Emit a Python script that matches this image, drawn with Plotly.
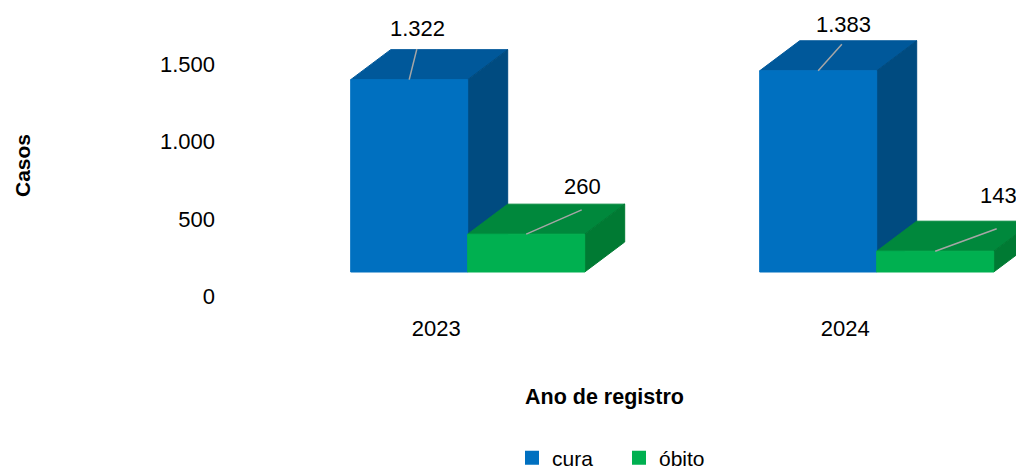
import plotly.graph_objects as go

# ---- data ----
years = ["2023", "2024"]
series_names = ["cura", "óbito"]
cura = [1322, 1383]
obito = [260, 143]
y_ticks = [0, 500, 1000, 1500]

# ---- style / geometry constants ----
# page pixel positions measured on the reference; the html body adds an 8px
# margin, so the figure is made 8px smaller and every position shifted by OFF.
OFF = 8
W, H = 1024 - OFF, 472 - OFF
ML, MR, MT, MB = 216 - OFF, 0, 0, 167
PLOT_W = W - ML - MR
PLOT_H = H - MT - MB
PX_X = 409.0                 # px per category
X0_PX = 467.7 - OFF          # pixel of first category boundary
BAR_W = 117 / PX_X           # bar width in category units
SY = 0.1455                  # px per case (bars)
BASE_PX = 272 - OFF          # pixel of bar base
DEPTH_X = 40 / PX_X
DEPTH_Y = 30 / SY
S2 = (296.7 - 64) / 1500     # px per case for tick-label axis
ZERO2_PX = 296.7 - OFF

FONT = "Liberation Sans, Arial, sans-serif"

colors = {
    "cura": {"front": "#0070C0", "top": "#00589A", "side": "#004B80"},
    "óbito": {"front": "#00B050", "top": "#00883C", "side": "#007A33"},
}

x_range = [(ML - X0_PX) / PX_X, (W - MR - X0_PX) / PX_X]
y_range = [-(MT + PLOT_H - BASE_PX) / SY, (BASE_PX - MT) / SY]
y2_range = [-(MT + PLOT_H - ZERO2_PX) / S2, (ZERO2_PX - MT) / S2]


def px_to_paper_x(p):
    return (p - OFF - ML) / PLOT_W


def px_to_paper_y(p):
    return (MT + PLOT_H - (p - OFF)) / PLOT_H


fig = go.Figure()


def poly(xs, ys, color):
    fig.add_trace(go.Scatter(
        x=xs + [xs[0]], y=ys + [ys[0]], mode="lines", fill="toself",
        fillcolor=color, line=dict(color=color, width=1),
        showlegend=False, hoverinfo="skip"))


label_points = []
for i, yr in enumerate(years):
    for name, vals, x0 in (("cura", cura, i - BAR_W), ("óbito", obito, i)):
        v = vals[i]
        x1 = x0 + BAR_W
        c = colors[name]
        # top face
        poly([x0, x1, x1 + DEPTH_X, x0 + DEPTH_X], [v, v, v + DEPTH_Y, v + DEPTH_Y], c["top"])
        # side face
        poly([x1, x1 + DEPTH_X, x1 + DEPTH_X, x1], [0, DEPTH_Y, v + DEPTH_Y, v], c["side"])
        # front face
        poly([x0, x1, x1, x0], [0, 0, v, v], c["front"])
        label_points.append(((x0 + x1) / 2, v))

# legend proxies
for name in series_names:
    fig.add_trace(go.Scatter(
        x=[None], y=[None], mode="markers", name=name, yaxis="y2",
        marker=dict(symbol="square", size=14, color=colors[name]["front"])))

# data labels with leader lines (pixel offsets: text shift, line end)
text_shift = [(8, 51), (56, 48), (25, 46), (63, 56)]
line_end = [(8, -32), (57, -25), (25, -28), (63, -23)]
for (xp, v), (tx, ty), (lx, ly) in zip(label_points, text_shift, line_end):
    fig.add_annotation(x=xp, y=v, xref="x", yref="y", text="", showarrow=True,
                       arrowhead=0, arrowwidth=1.5, arrowcolor="#A6A6A6",
                       ax=lx, ay=ly)
    fig.add_annotation(x=xp, y=v, xref="x", yref="y",
                       text=f"{v:,}".replace(",", "."), showarrow=False,
                       xshift=tx, yshift=ty,
                       font=dict(family=FONT, size=22, color="#000000"))

# axis titles
fig.add_annotation(text="<b>Casos</b>", xref="paper", yref="paper",
                   x=px_to_paper_x(22), y=px_to_paper_y(166),
                   xanchor="center", yanchor="middle",
                   textangle=-90, showarrow=False,
                   font=dict(family=FONT, size=21, color="#000000"))
fig.add_annotation(text="<b>Ano de registro</b>", xref="paper", yref="paper",
                   x=px_to_paper_x(604.5), y=px_to_paper_y(397),
                   xanchor="center", yanchor="middle",
                   showarrow=False,
                   font=dict(family=FONT, size=21.5, color="#000000"))

fig.update_layout(
    width=W, height=H,
    margin=dict(l=ML, r=MR, t=MT, b=MB, autoexpand=False),
    paper_bgcolor="white", plot_bgcolor="white",
    separators=",.",
    font=dict(family=FONT, size=22, color="#000000"),
    xaxis=dict(range=x_range, showgrid=False, zeroline=False, showline=False,
               automargin=False,
               tickmode="array", tickvals=[i - 0.077 for i in range(len(years))],
               ticktext=years, ticks="", ticklabelstandoff=8,
               tickfont=dict(family=FONT, size=22)),
    yaxis=dict(range=y_range, showgrid=False, zeroline=False, showline=False,
               automargin=False, showticklabels=False, ticks=""),
    yaxis2=dict(range=y2_range, overlaying="y", side="left", showgrid=False,
                automargin=False,
                zeroline=False, showline=False, tickmode="array",
                tickvals=y_ticks, tickformat=",d", ticks="",
                tickfont=dict(family=FONT, size=22)),
    legend=dict(orientation="h", x=px_to_paper_x(512), xanchor="left",
                y=px_to_paper_y(458), yanchor="middle",
                entrywidth=62, font=dict(family=FONT, size=21),
                itemwidth=30, bgcolor="rgba(0,0,0,0)"),
    showlegend=True,
)

fig.write_html("out.html")
